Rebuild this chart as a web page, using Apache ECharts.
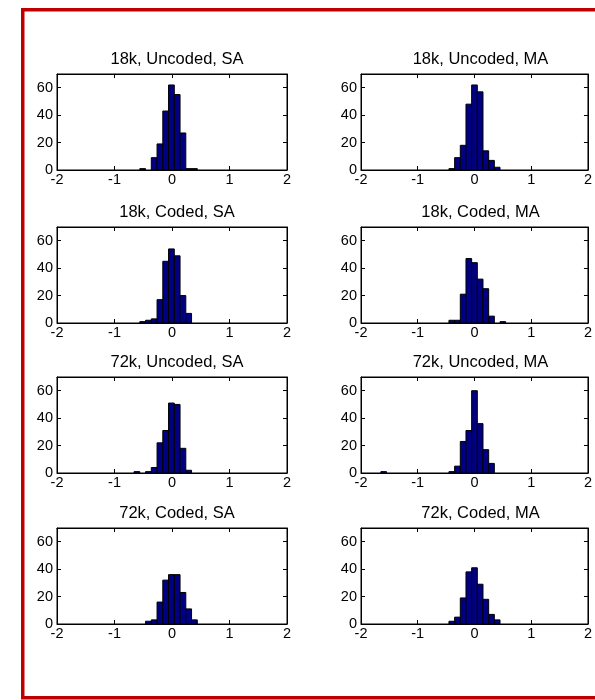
<!DOCTYPE html>
<html>
<head>
<meta charset="utf-8">
<script src="https://cdn.jsdelivr.net/npm/echarts@6/dist/echarts.min.js"></script>
<style>
html,body{margin:0;padding:0;background:#fff;}
#chart{width:595px;height:700px;}
</style>
</head>
<body>
<div id="chart"></div>
<script>
// ---- data ----
const titles = [
  '18k, Uncoded, SA', '18k, Uncoded, MA',
  '18k, Coded, SA',   '18k, Coded, MA',
  '72k, Uncoded, SA', '72k, Uncoded, MA',
  '72k, Coded, SA',   '72k, Coded, MA'
];
const binWidth = 0.1;
const xTicks = [-2, -1, 0, 1, 2];
const yTicks = [0, 20, 40, 60];

const centers18kUncSA = [-0.51, -0.41, -0.31, -0.21, -0.11, -0.01, 0.09, 0.19, 0.29, 0.39];
const counts18kUncSA  = [1, 0, 9, 19, 43, 62, 55, 27, 1, 1];

const centers18kUncMA = [-0.4, -0.3, -0.2, -0.1, 0.0, 0.1, 0.2, 0.3, 0.4];
const counts18kUncMA  = [1, 9, 18, 48, 62, 57, 14, 7, 2];

const centers18kCodSA = [-0.51, -0.41, -0.31, -0.21, -0.11, -0.01, 0.09, 0.19, 0.29];
const counts18kCodSA  = [1, 2, 3, 17, 45, 54, 49, 20, 7];

const centers18kCodMA = [-0.4, -0.3, -0.2, -0.1, 0.0, 0.1, 0.2, 0.3, 0.4, 0.5];
const counts18kCodMA  = [2, 2, 21, 47, 44, 32, 25, 5, 0, 1];

const centers72kUncSA = [-0.61, -0.51, -0.41, -0.31, -0.21, -0.11, -0.01, 0.09, 0.19, 0.29];
const counts72kUncSA  = [1, 0, 1, 4, 22, 31, 51, 50, 18, 2];

const centers72kUncMA = [-1.6, -0.4, -0.3, -0.2, -0.1, 0.0, 0.1, 0.2, 0.3];
const counts72kUncMA  = [1, 1, 5, 23, 31, 60, 36, 17, 7];

const centers72kCodSA = [-0.41, -0.31, -0.21, -0.11, -0.01, 0.09, 0.19, 0.29, 0.39];
const counts72kCodSA  = [2, 3, 16, 32, 36, 36, 23, 11, 3];

const centers72kCodMA = [-0.4, -0.3, -0.2, -0.1, 0.0, 0.1, 0.2, 0.3, 0.4];
const counts72kCodMA  = [2, 5, 19, 38, 41, 29, 18, 7, 3];

const allCenters = [centers18kUncSA, centers18kUncMA, centers18kCodSA, centers18kCodMA,
                    centers72kUncSA, centers72kUncMA, centers72kCodSA, centers72kCodMA];
const allCounts  = [counts18kUncSA, counts18kUncMA, counts18kCodSA, counts18kCodMA,
                    counts72kUncSA, counts72kUncMA, counts72kCodSA, counts72kCodMA];

// ---- layout ----
const colLeft = [57, 361];
const colWidth = [230, 229];
const rowTop = [74, 227, 377, 528];
const rowHeight = 96;
const FONT = 'Arial, "Liberation Sans", sans-serif';

const grids = [], xAxes = [], yAxes = [], series = [], titleOpts = [];

for (let i = 0; i < 8; i++) {
  const r = Math.floor(i / 2), c = i % 2;
  grids.push({
    left: colLeft[c], top: rowTop[r], width: colWidth[c], height: rowHeight,
    show: true, borderColor: '#000', borderWidth: 1, backgroundColor: '#fff'
  });
  titleOpts.push({
    text: titles[i],
    left: colLeft[c] + colWidth[c] / 2,
    top: rowTop[r] - 28,
    textAlign: 'center',
    textStyle: { fontFamily: FONT, fontSize: 16.5, fontWeight: 'normal', color: '#000' }
  });
  const baseX = {
    type: 'value', gridIndex: i, min: xTicks[0], max: xTicks[xTicks.length - 1], interval: 1,
    splitLine: { show: false },
    axisLine: { show: true, onZero: false, lineStyle: { color: '#000', width: 1 } },
    axisTick: { show: true, inside: true, length: 4, lineStyle: { color: '#000' } }
  };
  xAxes.push(Object.assign({}, baseX, {
    position: 'bottom',
    axisLabel: { show: true, margin: 2, fontFamily: FONT, fontSize: 14.5, color: '#000',
                 formatter: v => String(v) }
  }));
  xAxes.push(Object.assign({}, baseX, { position: 'top', axisLabel: { show: false } }));
  const baseY = {
    type: 'value', gridIndex: i, min: 0, max: 70, interval: 20,
    splitLine: { show: false },
    axisLine: { show: true, onZero: false, lineStyle: { color: '#000', width: 1 } },
    axisTick: { show: true, inside: true, length: 4, lineStyle: { color: '#000' } }
  };
  yAxes.push(Object.assign({}, baseY, {
    position: 'left',
    axisLabel: { show: true, margin: 4, showMaxLabel: false, fontFamily: FONT, fontSize: 14.5, color: '#000' }
  }));
  yAxes.push(Object.assign({}, baseY, { position: 'right', axisLabel: { show: false } }));

  const data = allCenters[i].map((x, k) => [x, allCounts[i][k]]);
  series.push({
    type: 'custom',
    xAxisIndex: 2 * i, yAxisIndex: 2 * i,
    data: data,
    clip: true,
    renderItem: function (params, api) {
      const x = api.value(0), y = api.value(1);
      if (!y) return null;
      const p0 = api.coord([x - binWidth / 2, 0]);
      const p1 = api.coord([x + binWidth / 2, y]);
      return {
        type: 'rect',
        shape: { x: p0[0], y: p1[1], width: p1[0] - p0[0], height: p0[1] - p1[1] },
        style: { fill: '#000080', stroke: '#000', lineWidth: 1 }
      };
    }
  });
}

const chart = echarts.init(document.getElementById('chart'), null, { renderer: 'canvas' });
chart.setOption({
  animation: false,
  backgroundColor: '#fff',
  title: titleOpts,
  grid: grids,
  xAxis: xAxes,
  yAxis: yAxes,
  series: series,
  graphic: [{
    type: 'rect', silent: true,
    shape: { x: 22.75, y: 9.75, width: 700, height: 688 },
    style: { fill: 'none', stroke: '#C00000', lineWidth: 3.5 }
  }]
});
</script>
</body>
</html>
